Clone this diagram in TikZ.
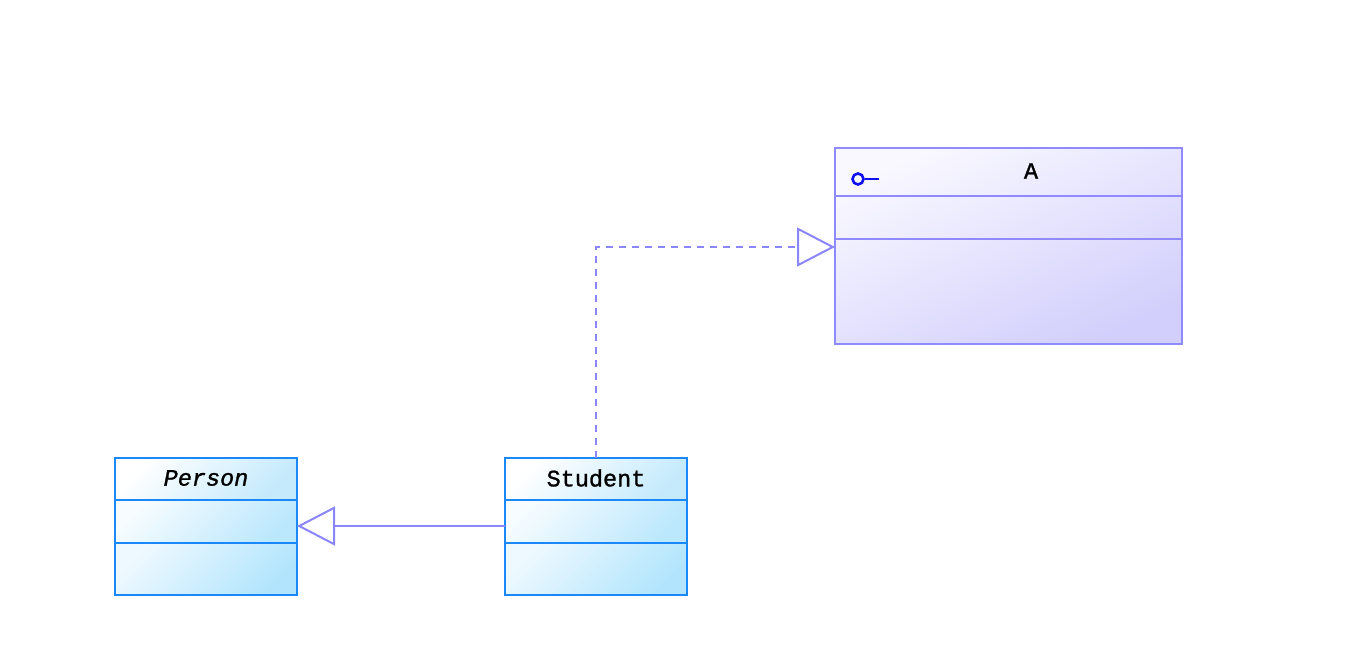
\documentclass[tikz,border=0pt]{standalone}
\usepackage{fontspec}
\setmonofont{Liberation Mono}
\usetikzlibrary{arrows.meta}
\definecolor{blueline}{HTML}{1A88F8}
\definecolor{violetline}{HTML}{8F8AFF}
\definecolor{wire}{HTML}{8A86FF}
\definecolor{keyblue}{HTML}{1010F0}
\definecolor{bluetopend}{HTML}{C4EAFC}
\definecolor{bluemidend}{HTML}{BCE8FD}
\definecolor{bluelowend}{HTML}{B2E5FD}
\definecolor{bluemidstart}{HTML}{F6FCFF}
\definecolor{bluelowstart}{HTML}{EEF9FF}
\definecolor{violetfill}{HTML}{D2CFFC}
\definecolor{violetstart}{HTML}{F9F8FF}
\tikzset{
  x=1pt,y=-1pt,
  classbox/.style={line width=2.4pt,inner sep=0pt,outer sep=0pt,anchor=north west},
  bluepart/.style={classbox,draw=blueline,minimum width=182pt},
  bluetop/.style={bluepart,top color=white,bottom color=bluetopend,shading angle=45,minimum height=42pt},
  bluemid/.style={bluepart,top color=bluemidstart,bottom color=bluemidend,shading angle=45,minimum height=43pt},
  bluelow/.style={bluepart,top color=bluelowstart,bottom color=bluelowend,shading angle=45,minimum height=52pt},
  blueframe/.style={classbox,draw=blueline,minimum width=182pt,minimum height=137pt},
  violetbox/.style={classbox,draw=violetline,top color=violetstart,bottom color=violetfill,shading angle=25,minimum width=347pt,minimum height=196pt},
  divider/.style={line width=2.4pt},
  classtitle/.style={inner sep=0pt,font=\ttfamily\addfontfeature{FakeBold=1.2}\fontsize{23.5}{26}\selectfont,text=black},
  wireline/.style={draw=wire,line width=2.2pt},
  gentip/.style={-{Triangle[open,length=38pt,width=39pt,line width=2pt]}},
  keyicon/.style={draw=keyblue,line width=2.6pt},
}
\begin{document}
\begin{tikzpicture}
\useasboundingbox (0,0) rectangle (1349,658);
% Person
\node[bluetop] (persontop) at (115,458) {};
\node[bluemid] (personmid) at (persontop.south west) {};
\node[bluelow] (personlow) at (personmid.south west) {};
\node[blueframe] (person) at (115,458) {};
% Student
\node[bluetop] (studenttop) at (505,458) {};
\node[bluemid] (studentmid) at (studenttop.south west) {};
\node[bluelow] (studentlow) at (studentmid.south west) {};
\node[blueframe] (student) at (505,458) {};
% A
\node[violetbox] (a) at (835,148) {};
\draw[divider,violetline] ([yshift=-48pt]a.north west) -- ([yshift=-48pt]a.north east);
\draw[divider,violetline] ([yshift=-91pt]a.north west) -- ([yshift=-91pt]a.north east);
\node[classtitle,font=\ttfamily\itshape\addfontfeature{FakeBold=1.2}\fontsize{23.5}{26}\selectfont] (personname) at (206,478) {Person};
\node[classtitle] (studentname) at (596,478) {Student};
\node[classtitle] (aname) at (1031,171) {A};
\node[draw=keyblue,line width=2.6pt,circle,inner sep=0pt,minimum size=11pt] (keyhead) at (858,179) {};
\coordinate (keyend) at (879,179);
\draw[keyicon] (keyhead) -- (keyend);
\draw[wireline,gentip] ([yshift=0.5pt]student.west) -- ([yshift=0.5pt]person.east);
\draw[wireline,gentip,dash pattern=on 7pt off 6pt] (student.north) |- ([yshift=-1pt]a.west);
\end{tikzpicture}
\end{document}
